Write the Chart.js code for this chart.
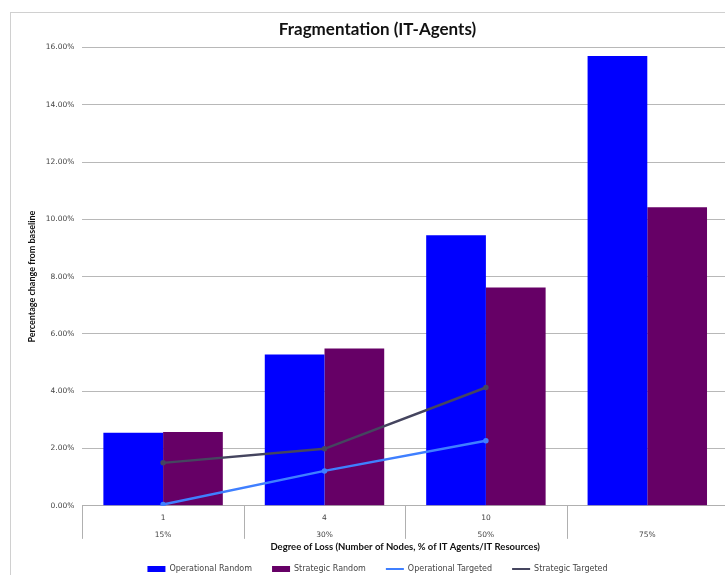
<!DOCTYPE html>
<html>
<head>
<meta charset="utf-8">
<script src="https://cdn.jsdelivr.net/npm/chart.js@4/dist/chart.umd.min.js"></script>
<style>
  html, body { margin: 0; padding: 0; background: #fff; overflow: hidden; }
  #frame { position: absolute; left: 10px; top: 12px; width: 726px; height: 570px; border: 1px solid #d0d0d0; background: #fff; }
</style>
</head>
<body>
<div id="frame"><canvas id="chart" width="726" height="570"></canvas></div>
<script>
// values in percent
var nodeLabels = ["1", "4", "10", ""];
var lossLabels = ["15%", "30%", "50%", "75%"];
var operationalRandom = [2.55, 5.28, 9.44, 15.7];
var strategicRandom = [2.58, 5.49, 7.62, 10.42];
var operationalTargeted = [0.05, 1.22, 2.27, null];
var strategicTargeted = [1.5, 1.99, 4.13, null];

var labels = [];
for (var i = 0; i < nodeLabels.length; i++) {
  labels.push([nodeLabels[i], lossLabels[i]]);
}

var titleFont = "Lato, 'Liberation Sans', sans-serif";
var smallFont = "'DejaVu Sans', sans-serif";

// vertical dividers between the categories, below the x axis
var dividers = {
  id: "dividers",
  afterDraw: function (chart) {
    var x = chart.scales.x, ctx = chart.ctx;
    var half = (x.getPixelForValue(1) - x.getPixelForValue(0)) / 2;
    ctx.save();
    ctx.strokeStyle = "#b0b0b0";
    ctx.lineWidth = 1;
    ctx.beginPath();
    for (var i = 0; i <= nodeLabels.length; i++) {
      var px = Math.round(x.getPixelForValue(0) - half + i * half * 2) + 0.5;
      ctx.moveTo(px, x.top);
      ctx.lineTo(px, x.top + 33);
    }
    ctx.stroke();
    ctx.restore();
  }
};

new Chart(document.getElementById("chart"), {
  type: "bar",
  data: {
    labels: labels,
    datasets: [
      { label: "Operational Random", data: operationalRandom, backgroundColor: "#0000ff", order: 3 },
      { label: "Strategic Random", data: strategicRandom, backgroundColor: "#660066", order: 4 },
      { type: "line", label: "Operational Targeted", data: operationalTargeted, borderColor: "#3f7fff", backgroundColor: "#3f7fff",
        borderWidth: 2.5, pointRadius: 1.5, tension: 0, order: 1 },
      { type: "line", label: "Strategic Targeted", data: strategicTargeted, borderColor: "#45455f", backgroundColor: "#45455f",
        borderWidth: 2.5, pointRadius: 1.5, tension: 0, order: 2 }
    ]
  },
  plugins: [dividers],
  options: {
    responsive: false,
    animation: false,
    layout: { padding: { left: 16, right: 9, top: 4, bottom: 0 } },
    datasets: { bar: { categoryPercentage: 0.74, barPercentage: 1 } },
    plugins: {
      title: {
        display: true, text: "Fragmentation (IT-Agents)", color: "#111",
        font: { family: titleFont, size: 17, weight: "bold" }, padding: { top: 2, bottom: 8 }
      },
      legend: {
        position: "bottom",
        labels: {
          usePointStyle: true, pointStyleWidth: 18, boxHeight: 6, padding: 20,
          color: "#444", font: { family: smallFont, size: 8 },
          sort: function (a, b) { return a.datasetIndex - b.datasetIndex; },
          generateLabels: function (chart) {
            var items = Chart.defaults.plugins.legend.labels.generateLabels(chart);
            items.forEach(function (it) {
              var ds = chart.data.datasets[it.datasetIndex];
              if (ds.type == "line") { it.pointStyle = "line"; it.lineWidth = 2; it.strokeStyle = ds.borderColor; }
              else { it.pointStyle = "rect"; it.lineWidth = 0; }
            });
            return items;
          }
        }
      },
      tooltip: { enabled: false }
    },
    scales: {
      x: {
        grid: { display: false },
        border: { color: "#b0b0b0" },
        ticks: { color: "#444", font: { family: smallFont, size: 7.5, lineHeight: 2.25 }, padding: -4, maxRotation: 0 },
        title: { display: true, text: "Degree of Loss (Number of Nodes, % of IT Agents/IT Resources)", color: "#111",
          font: { family: titleFont, size: 9.5, weight: "bold" }, padding: { top: 2, bottom: -8 } }
      },
      y: {
        min: 0, max: 16,
        grid: { color: "#b8b8b8", drawTicks: false },
        border: { display: false },
        ticks: { stepSize: 2, color: "#444", font: { family: smallFont, size: 7.5 }, padding: 8,
          callback: function (v) { return v.toFixed(2) + "%"; } },
        title: { display: true, text: "Percentage change from baseline", color: "#111",
          font: { family: titleFont, size: 9, weight: "bold" }, padding: { top: 0, bottom: 0 } }
      }
    }
  }
});
</script>
</body>
</html>
